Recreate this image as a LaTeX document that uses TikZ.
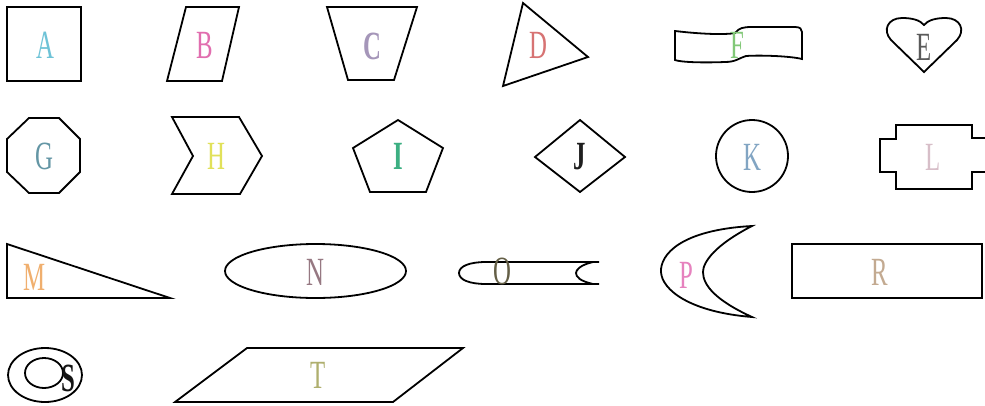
\documentclass[tikz,border=0pt]{standalone}
\usepackage{fontspec}
\usepackage{graphicx}
\setmainfont{Liberation Serif}
\newcommand\sx[1]{\scalebox{0.62}[1]{#1}}
\definecolor{cA}{RGB}{110,195,215}
\definecolor{cB}{RGB}{225,110,175}
\definecolor{cC}{RGB}{165,150,185}
\definecolor{cD}{RGB}{215,115,115}
\definecolor{cF}{RGB}{130,200,120}
\definecolor{cE}{RGB}{90,90,90}
\definecolor{cG}{RGB}{100,150,165}
\definecolor{cH}{RGB}{225,225,90}
\definecolor{cI}{RGB}{60,175,130}
\definecolor{cJ}{RGB}{30,30,30}
\definecolor{cK}{RGB}{130,165,195}
\definecolor{cL}{RGB}{215,190,200}
\definecolor{cM}{RGB}{240,175,110}
\definecolor{cN}{RGB}{150,120,130}
\definecolor{cO}{RGB}{100,95,70}
\definecolor{cP}{RGB}{230,130,190}
\definecolor{cR}{RGB}{195,170,145}
\definecolor{cS}{RGB}{20,20,20}
\definecolor{cT}{RGB}{175,175,110}
\begin{document}
\begin{tikzpicture}[x=1pt,y=-1pt,
  shp/.style={draw=black,line width=1.8pt,line join=miter},
  lbl/.style={inner sep=0pt,font=\fontsize{40}{40}\selectfont}]
\useasboundingbox[fill=white] (0,0) rectangle (985,405);
% Row 1
\draw[shp] (7,7) rectangle (81,81);
\node[lbl,text=cA] (lA) at (45,45) {\sx{A}};
\draw[shp] (186,7) -- (239,7) -- (222,81) -- (167,81) -- cycle;
\node[lbl,text=cB] (lB) at (205,45) {\sx{B}};
\draw[shp] (327,7) -- (417,7) -- (394,80) -- (348,80) -- cycle;
\node[lbl,text=cC] (lC) at (372,46) {\sx{\bfseries C}};
\draw[shp] (523,3) -- (588,57) -- (503,86) -- cycle;
\node[lbl,text=cD] (lD) at (538,45) {\sx{D}};
\draw[shp] (675,31) .. controls (700,34) and (725,35) .. (735,33)
  .. controls (739,28) and (743,27) .. (752,27) -- (795,27)
  .. controls (800,27) and (802,29) .. (802,32) -- (802,59)
  .. controls (790,56) and (760,55) .. (746,56)
  .. controls (739,58) and (736,62) .. (725,62)
  .. controls (700,63) and (680,62) .. (675,60) -- cycle;
\node[lbl,text=cF] (lF) at (737,45) {\sx{F}};
\draw[shp] (924,72) -- (891,40) .. controls (882,30) and (888,18) .. (902,18)
  .. controls (912,18) and (920,20) .. (924,25)
  .. controls (928,20) and (936,18) .. (946,18)
  .. controls (960,18) and (966,30) .. (957,40) -- cycle;
\node[lbl,text=cE] (lE) at (924,47) {\sx{E}};
% Row 2
\draw[shp] (29,118) -- (59,118) -- (80,139) -- (80,172) -- (59,193) -- (29,193) -- (7,172) -- (7,139) -- cycle;
\node[lbl,text=cG] (lG) at (44,156) {\sx{G}};
\draw[shp] (172,117) -- (239,117) -- (262,156) -- (240,194) -- (172,194) -- (193,156) -- cycle;
\node[lbl,text=cH] (lH) at (216,156) {\sx{H}};
\draw[shp] (398,120) -- (443,148) -- (426,192) -- (370,192) -- (353,148) -- cycle;
\node[lbl,text=cI] (lI) at (398,156) {\sx{\bfseries I}};
\draw[shp] (535,157) -- (580,120) -- (625,157) -- (580,192) -- cycle;
\node[lbl,text=cJ] (lJ) at (580,157) {\sx{\bfseries J}};
\draw[shp] (752,156) circle (36);
\node[lbl,text=cK] (lK) at (752,157) {\sx{K}};
\draw[shp] (985,138) -- (972,138) -- (972,125) -- (896,125) -- (896,139) -- (880,139)
  -- (880,172) -- (896,172) -- (896,189) -- (972,189) -- (972,172) -- (985,172);
\node[lbl,text=cL] (lL) at (933,157) {\sx{L}};
% Row 3
\draw[shp] (7,244) -- (170,298) -- (7,298) -- cycle;
\node[lbl,text=cM] (lM) at (35,277) {\sx{M}};
\draw[shp] (315.5,271) ellipse (90.5 and 27);
\node[lbl,text=cN] (lN) at (315,272) {\sx{N}};
\draw[shp] (599,262) -- (486,262) .. controls (470,262) and (459,266) .. (459,273)
  .. controls (459,280) and (470,284) .. (486,284) -- (599,284);
\draw[shp] (593,262) .. controls (580,265) and (576,270) .. (576,273)
  .. controls (576,277) and (580,281) .. (593,284);
\node[lbl,text=cO] (lO) at (502,271) {\sx{O}};
\draw[shp] (752,226) .. controls (680,230) and (660,255) .. (661,272)
  .. controls (662,290) and (690,312) .. (752,317)
  .. controls (715,300) and (703,285) .. (703,272)
  .. controls (703,262) and (715,245) .. (752,226) -- cycle;
\node[lbl,text=cP] (lP) at (686,275) {\sx{P}};
\draw[shp] (792,244) rectangle (982,298);
\node[lbl,text=cR] (lR) at (880,272) {\sx{R}};
% Row 4
\draw[shp] (45,375) ellipse (37 and 27);
\draw[shp] (44,373) ellipse (19 and 15);
\node[lbl,text=cS] (lS) at (68,378) {\sx{\bfseries S}};
\draw[shp] (247,348) -- (463,348) -- (393,402) -- (175,402) -- cycle;
\node[lbl,text=cT] (lT) at (318,375) {\sx{T}};
\end{tikzpicture}
\end{document}
